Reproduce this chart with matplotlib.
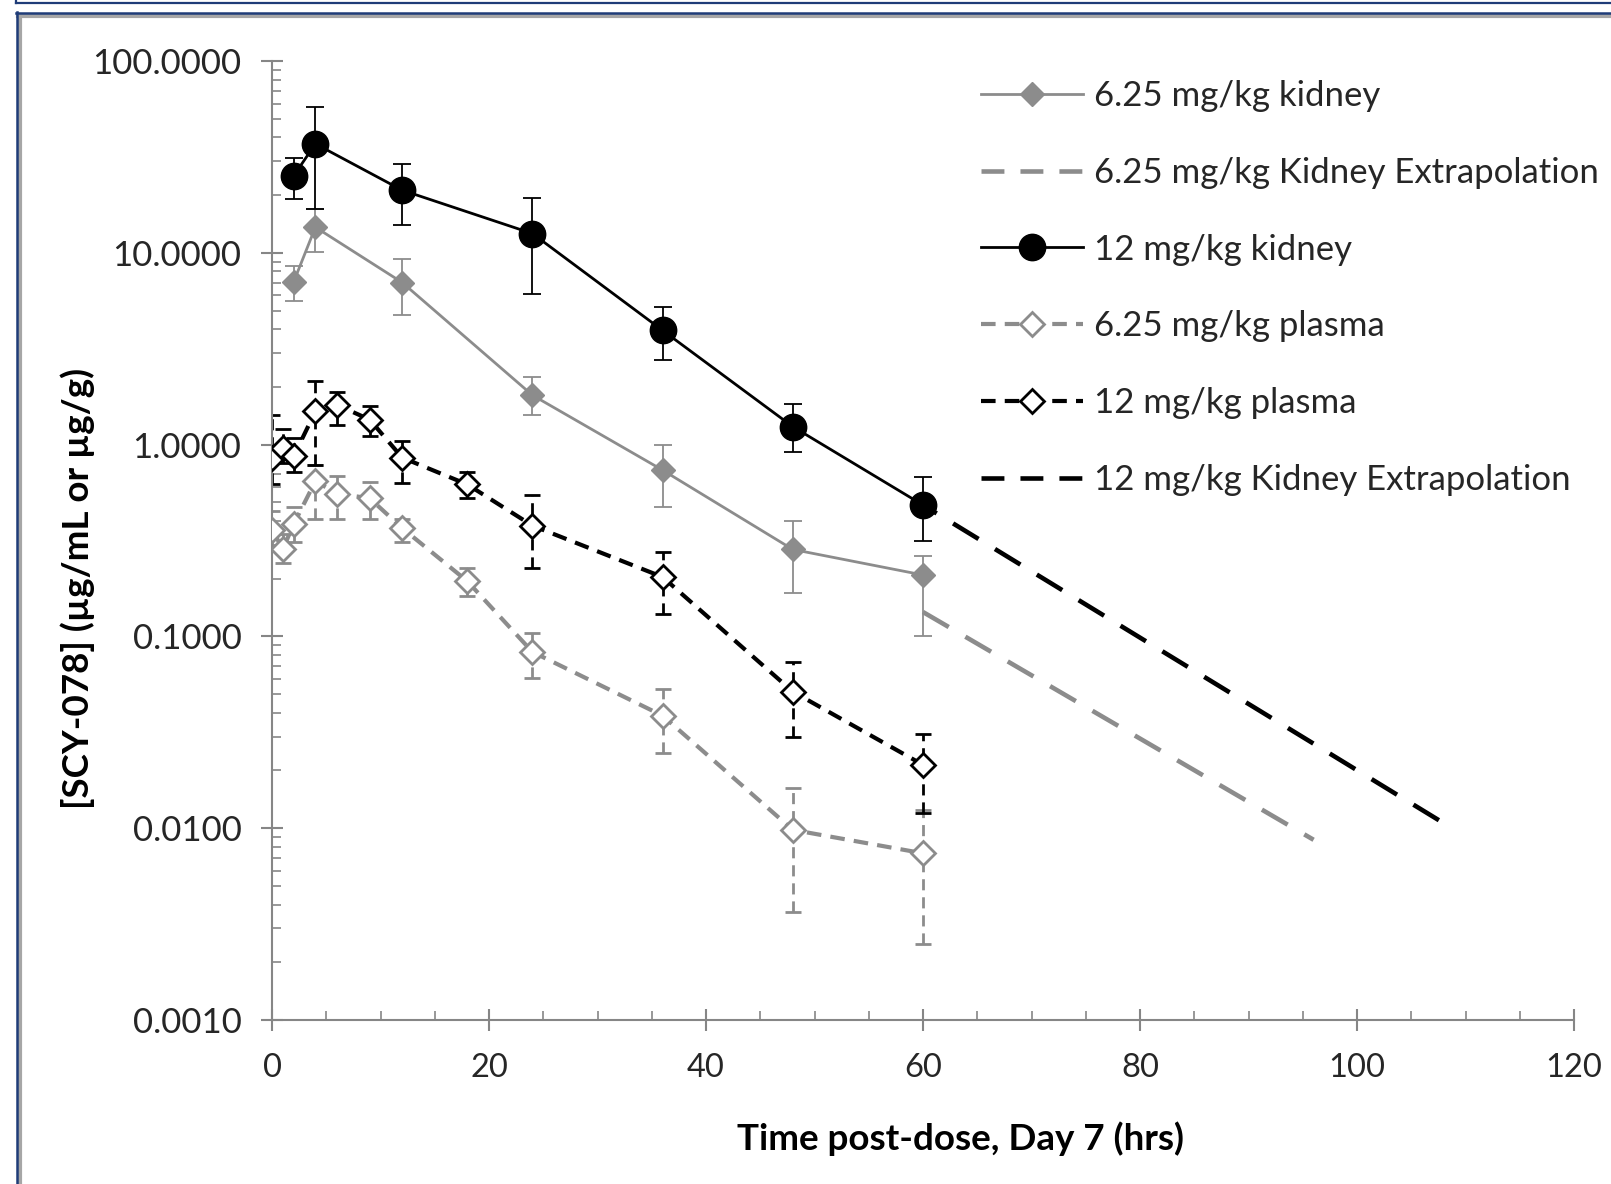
import matplotlib
matplotlib.use("Agg")
import matplotlib.pyplot as plt
import numpy as np
from matplotlib.lines import Line2D
from matplotlib.ticker import FixedLocator, FormatStrFormatter, LogLocator, MultipleLocator, NullFormatter

plt.rcParams["font.family"] = ["Lato", "DejaVu Sans"]

# --- data ------------------------------------------------------------------
t_kidney = [2, 4, 12, 24, 36, 48, 60]
kid_12 = [25.2, 37.0, 21.2, 12.6, 3.94, 1.24, 0.484]
kid_12_hi = [31.3, 57.6, 29.1, 19.4, 5.24, 1.62, 0.676]
kid_12_lo = [19.1, 16.9, 14.0, 6.07, 2.76, 0.92, 0.314]

kid_625 = [7.06, 13.6, 7.0, 1.81, 0.736, 0.284, 0.209]
kid_625_hi = [8.56, 17.0, 9.3, 2.26, 0.99, 0.40, 0.264]
kid_625_lo = [5.64, 10.1, 4.74, 1.42, 0.472, 0.168, 0.100]

t_plasma = [0, 1, 2, 4, 6, 9, 12, 18, 24, 36, 48, 60]
pla_12 = [0.855, 0.964, 0.87, 1.49, 1.61, 1.35, 0.855, 0.62, 0.378, 0.204, 0.0515, 0.0214]
pla_12_hi = [1.43, 1.20, 1.08, 2.15, 1.89, 1.58, 1.05, 0.718, 0.547, 0.274, 0.0733, 0.0309]
pla_12_lo = [0.62, 0.80, 0.72, 0.787, 1.27, 1.11, 0.634, 0.527, 0.228, 0.131, 0.0298, 0.0120]

pla_625 = [0.36, 0.285, 0.385, 0.645, 0.555, 0.525, 0.367, 0.194, 0.083, 0.0386, 0.0098, 0.0074]
pla_625_hi = [0.45, 0.34, 0.47, 0.787, 0.69, 0.641, 0.41, 0.228, 0.104, 0.0532, 0.0162, 0.0125]
pla_625_lo = [0.29, 0.24, 0.31, 0.41, 0.41, 0.41, 0.31, 0.163, 0.061, 0.0247, 0.00365, 0.0025]

t_extrap_625 = [60, 96]
extrap_625 = [0.134, 0.0087]
t_extrap_12 = [60, 108.5]
extrap_12 = [0.484, 0.0102]

x_ticks = [0, 20, 40, 60, 80, 100, 120]
y_ticks = [0.001, 0.01, 0.1, 1, 10, 100]

labels = [
    "6.25 mg/kg kidney",
    "6.25 mg/kg Kidney Extrapolation",
    "12 mg/kg kidney",
    "6.25 mg/kg plasma",
    "12 mg/kg plasma",
    "12 mg/kg Kidney Extrapolation",
]

GRAY = "#8c8c8c"
BLACK = "#000000"
AXIS_GRAY = "#868686"
W, H = 1611, 1184

EXTRAP_DASH = (0, (6.5, 4.2))
PLASMA_DASH = (0, (3.5, 2.2))


def yerr(vals, lo, hi):
    v = np.asarray(vals)
    return [v - np.asarray(lo), np.asarray(hi) - v]


fig = plt.figure(figsize=(W / 100, H / 100), dpi=100)
ax = fig.add_axes([272 / W, 1 - 1020 / H, (1574 - 272) / W, (1020 - 61) / H])

# error bars first, below the markers
ax.errorbar(t_kidney, kid_625, yerr=yerr(kid_625, kid_625_lo, kid_625_hi), fmt="none",
            ecolor=GRAY, elinewidth=1.3, capsize=6.8, capthick=1.3, zorder=2)
ax.errorbar(t_kidney, kid_12, yerr=yerr(kid_12, kid_12_lo, kid_12_hi), fmt="none",
            ecolor=BLACK, elinewidth=1.3, capsize=6.8, capthick=1.3, zorder=2)
for vals, lo, hi, col in [(pla_625, pla_625_lo, pla_625_hi, GRAY), (pla_12, pla_12_lo, pla_12_hi, BLACK)]:
    eb = ax.errorbar(t_plasma, vals, yerr=yerr(vals, lo, hi), fmt="none",
                     ecolor=col, elinewidth=2.0, capsize=5.5, capthick=2.0, zorder=2)
    eb.lines[2][0].set_linestyle((0, (4, 2.5)))

# extrapolations
ax.plot(t_extrap_625, extrap_625, color=GRAY, lw=3.3, ls=EXTRAP_DASH, zorder=3)
ax.plot(t_extrap_12, extrap_12, color=BLACK, lw=3.3, ls=(3, (6.5, 4.2)), zorder=3)

# series
ax.plot(t_plasma, pla_625, color=GRAY, lw=3.0, ls=PLASMA_DASH, marker="D", ms=12,
        mfc="white", mec=GRAY, mew=2.0, zorder=4)
ax.plot(t_plasma, pla_12, color=BLACK, lw=3.0, ls=PLASMA_DASH, marker="D", ms=12,
        mfc="white", mec=BLACK, mew=2.0, zorder=4)
ax.plot(t_kidney, kid_625, color=GRAY, lw=2.0, marker="D", ms=12.5, mfc=GRAY, mec=GRAY, zorder=5)
ax.plot(t_kidney, kid_12, color=BLACK, lw=2.0, marker="o", ms=19, mfc=BLACK, mec=BLACK, zorder=6)

# axes styling
ax.set_yscale("log")
ax.set_xlim(0, 120)
ax.set_ylim(0.001, 100)
ax.yaxis.set_major_locator(FixedLocator(y_ticks))
ax.yaxis.set_major_formatter(FormatStrFormatter("%.4f"))
ax.yaxis.set_minor_locator(LogLocator(base=10, subs=np.arange(2, 10)))
ax.yaxis.set_minor_formatter(NullFormatter())
ax.xaxis.set_major_locator(FixedLocator(x_ticks))
ax.xaxis.set_minor_locator(MultipleLocator(5))

for side in ["top", "right"]:
    ax.spines[side].set_visible(False)
for side in ["left", "bottom"]:
    ax.spines[side].set_color(AXIS_GRAY)
    ax.spines[side].set_linewidth(1.5)

ax.tick_params(axis="both", which="major", direction="inout", length=16, width=1.5,
               color=AXIS_GRAY, labelcolor="#262626")
ax.tick_params(axis="y", which="major", pad=14, labelsize=25)
ax.tick_params(axis="x", which="major", pad=16, labelsize=23.5)
ax.tick_params(axis="both", which="minor", direction="in", length=6.5, width=1.2, color=AXIS_GRAY)

ax.set_xlabel("Time post-dose, Day 7 (hrs)", fontsize=26.5, fontweight="bold")
ax.set_ylabel("[SCY-078] (µg/mL or µg/g)", fontsize=26.5, fontweight="bold")
ax.xaxis.set_label_coords(0.529, -0.106)
ax.yaxis.set_label_coords(-0.136, 0.45)

# legend (no error bars in the handles)
handles = [
    Line2D([], [], color=GRAY, lw=2.0, marker="D", ms=12.5, mfc=GRAY, mec=GRAY),
    Line2D([], [], color=GRAY, lw=3.3, ls=(0, (5, 3.5))),
    Line2D([], [], color=BLACK, lw=2.0, marker="o", ms=19, mfc=BLACK),
    Line2D([], [], color=GRAY, lw=3.0, ls=PLASMA_DASH, marker="D", ms=12, mfc="white", mec=GRAY, mew=2.0),
    Line2D([], [], color=BLACK, lw=3.0, ls=PLASMA_DASH, marker="D", ms=12, mfc="white", mec=BLACK, mew=2.0),
    Line2D([], [], color=BLACK, lw=3.3, ls=(0, (5, 3.5))),
]
fig.legend(handles, labels, loc="upper left", bbox_to_anchor=(981 / W, 1 - 80 / H),
           frameon=False, fontsize=25, handlelength=2.95, handletextpad=0.3,
           labelspacing=1.29, borderpad=0, borderaxespad=0, numpoints=1,
           labelcolor="#262626")


# window frame around the chart
def fx(px):
    return px / W


def fy(py):
    return 1 - py / H


NAVY = "#1f3c78"
fig.add_artist(Line2D([fx(16), fx(W)], [fy(2.5), fy(2.5)], color=NAVY, lw=1.6))
fig.add_artist(Line2D([fx(16), fx(16)], [fy(0), fy(2.5)], color=NAVY, lw=1.6))
fig.add_artist(Line2D([fx(18), fx(W)], [fy(15.5), fy(15.5)], color="#a6a6a6", lw=3.0))
fig.add_artist(Line2D([fx(19.5), fx(19.5)], [fy(15), fy(H)], color="#a6a6a6", lw=3.0))
fig.add_artist(Line2D([fx(16), fx(W)], [fy(13), fy(13)], color=NAVY, lw=1.8))
fig.add_artist(Line2D([fx(16.5), fx(16.5)], [fy(12), fy(H)], color=NAVY, lw=1.8))

fig.savefig("out.png", dpi=100, facecolor="white")
